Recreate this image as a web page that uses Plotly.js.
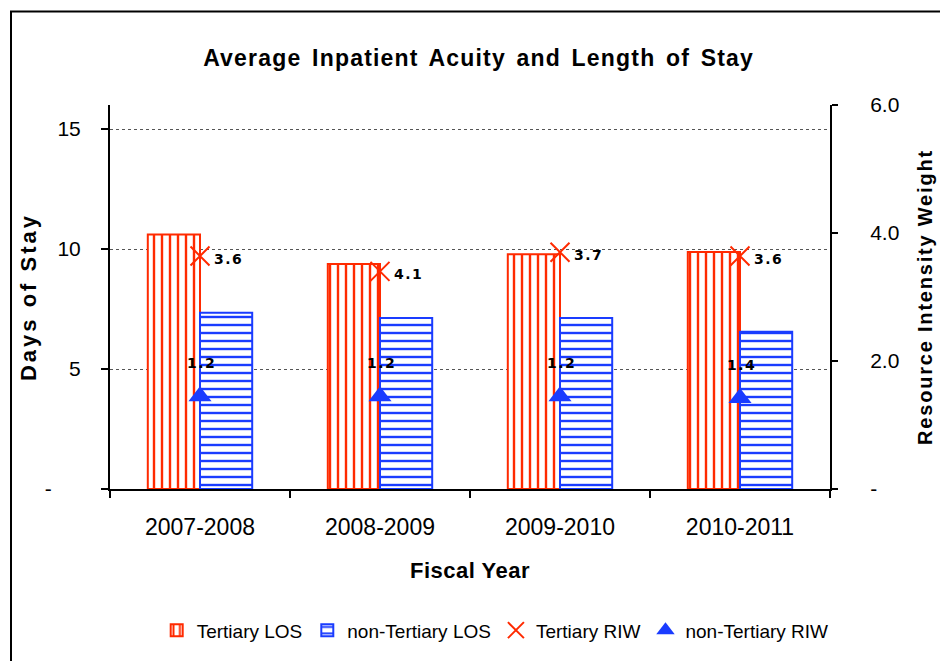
<!DOCTYPE html>
<html>
<head>
<meta charset="utf-8">
<script src="https://cdn.plot.ly/plotly-3.0.1.min.js"></script>
<style>
  html, body { margin: 0; padding: 0; background: #fff; }
  #chart { width: 940px; height: 661px; }
  .gtitle { letter-spacing: 1.2px; word-spacing: 3px; }
  .ytitle { letter-spacing: 3px; }
  .y2title { letter-spacing: 1.8px; }
  .xtitle { letter-spacing: 0.5px; }
  .annotation-text { letter-spacing: 1.5px; }
</style>
</head>
<body>
<div id="chart"></div>
<script>
// ---- Data ----
const categories = ['2007-2008', '2008-2009', '2009-2010', '2010-2011'];
const tertiaryLOS = [10.6, 9.37, 9.78, 9.87];
const nonTertiaryLOS = [7.34, 7.13, 7.13, 6.55];
const tertiaryRIW = [3.64, 3.40, 3.70, 3.64];
const nonTertiaryRIW = [1.45, 1.45, 1.45, 1.42];
const tertiaryRIWLabels = ['3.6', '4.1', '3.7', '3.6'];
const nonTertiaryRIWLabels = ['1.2', '1.2', '1.2', '1.4'];
const leftTickVals = [0, 5, 10, 15];
const leftTickText = ['-\u00a0\u00a0\u00a0\u00a0\u00a0', '5', '10', '15'];
const rightTickVals = [0, 2, 4, 6];
const rightTickText = ['-', '2.0', '4.0', '6.0'];

const RED = '#ff2a00';
const BLUE = '#1a3cff';
const FONT = 'Liberation Sans, Arial, sans-serif';

const traces = [
  {
    type: 'bar', name: 'Tertiary LOS', x: categories, y: tertiaryLOS,
    marker: {
      color: 'white',
      line: { color: RED, width: 2 },
      pattern: { shape: '|', fgcolor: RED, bgcolor: 'white', size: 8, solidity: 0.3, fillmode: 'replace' }
    },
    hoverinfo: 'skip'
  },
  {
    type: 'bar', name: 'non-Tertiary LOS', x: categories, y: nonTertiaryLOS,
    marker: {
      color: 'white',
      line: { color: BLUE, width: 2 },
      pattern: { shape: '-', fgcolor: BLUE, bgcolor: 'white', size: 8, solidity: 0.3, fillmode: 'replace' }
    },
    hoverinfo: 'skip'
  },
  {
    type: 'scatter', mode: 'markers', name: 'Tertiary RIW', x: categories, y: tertiaryRIW, yaxis: 'y2',
    marker: { symbol: 'x-thin-open', size: 19, color: RED, line: { color: RED, width: 2 } }
  },
  {
    type: 'scatter', mode: 'markers', name: 'non-Tertiary RIW', x: categories, y: nonTertiaryRIW, yaxis: 'y2',
    marker: { symbol: 'triangle-up', size: 20, color: BLUE }
  }
];

const labelFont = { family: 'DejaVu Sans, Verdana, sans-serif', size: 14, color: '#000', weight: 'bold' };
const annotations = [];
categories.forEach((c, i) => {
  annotations.push({
    x: c, y: tertiaryRIW[i], xref: 'x', yref: 'y2', text: tertiaryRIWLabels[i],
    showarrow: false, xanchor: 'left', yanchor: 'middle', xshift: 12, yshift: -3, font: labelFont
  });
  annotations.push({
    x: c, y: nonTertiaryRIW[i], xref: 'x', yref: 'y2', text: nonTertiaryRIWLabels[i],
    showarrow: false, xanchor: 'center', yanchor: 'middle', xshift: 1, yshift: 33, font: labelFont
  });
});

const layout = {
  width: 940, height: 661,
  margin: { l: 110, r: 110, t: 105, b: 170 },
  paper_bgcolor: 'white', plot_bgcolor: 'white',
  font: { family: FONT, color: '#000' },
  title: {
    text: 'Average Inpatient Acuity and Length of Stay',
    font: { family: FONT, size: 23, weight: 'bold', color: '#000' },
    x: 0.512, xref: 'paper', xanchor: 'center', y: 0.913, yref: 'container', yanchor: 'middle'
  },
  barmode: 'group',
  bargap: 0.42,
  bargroupgap: 0,
  showlegend: true,
  legend: {
    orientation: 'h', x: 0.535, xanchor: 'center', y: -0.368, yanchor: 'middle',
    font: { family: FONT, size: 19, color: '#000' },
    itemwidth: 30, tracegroupgap: 0, traceorder: 'normal'
  },
  xaxis: {
    type: 'category',
    showline: true, linecolor: '#000', linewidth: 2,
    ticks: 'outside', tickson: 'boundaries', ticklen: 7, tickwidth: 1.5, tickcolor: '#000',
    tickfont: { family: FONT, size: 23, color: '#000' },
    ticklabelstandoff: 16,
    showgrid: false, zeroline: false,
    title: { text: 'Fiscal Year', font: { family: FONT, size: 22, weight: 'bold', color: '#000' }, standoff: 24 }
  },
  yaxis: {
    range: [0, 16], autorange: false,
    tickvals: leftTickVals, ticktext: leftTickText,
    showline: true, linecolor: '#000', linewidth: 2,
    ticks: 'outside', ticklen: 7, tickwidth: 1.5, tickcolor: '#000',
    tickfont: { family: FONT, size: 21, color: '#000' },
    ticklabelstandoff: 16,
    showgrid: true, gridcolor: '#555', gridwidth: 1, griddash: 'dot',
    zeroline: false,
    title: { text: 'Days of Stay', font: { family: FONT, size: 22, weight: 'bold', color: '#000' }, standoff: 2 }
  },
  yaxis2: {
    overlaying: 'y', side: 'right',
    range: [0, 6], autorange: false,
    tickvals: rightTickVals, ticktext: rightTickText,
    showline: true, linecolor: '#000', linewidth: 2,
    ticks: 'outside', ticklen: 6, tickwidth: 1.5, tickcolor: '#000',
    tickfont: { family: FONT, size: 21, color: '#000' },
    ticklabelstandoff: 28,
    showgrid: false, zeroline: false,
    title: { text: 'Resource Intensity Weight', font: { family: FONT, size: 20, weight: 'bold', color: '#000' }, standoff: 20 }
  },
  annotations: annotations,
  shapes: [
    { type: 'rect', xref: 'paper', yref: 'paper', x0: -0.1375, x1: 1.17, y0: -0.47, y1: 1.2435,
      line: { color: '#000', width: 2 }, fillcolor: 'rgba(0,0,0,0)', layer: 'above' }
  ]
};

Plotly.newPlot('chart', traces, layout, { staticPlot: true, displayModeBar: false });
</script>
</body>
</html>
